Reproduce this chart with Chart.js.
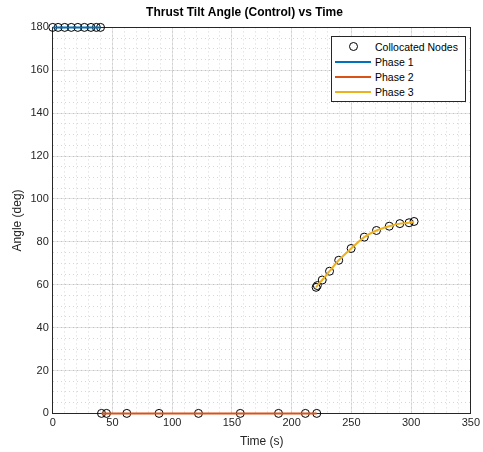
<!DOCTYPE html>
<html>
<head>
<meta charset="utf-8">
<script src="https://cdn.jsdelivr.net/npm/chart.js@4"></script>
<style>
  html, body { margin: 0; padding: 0; background: #fff; }
  #wrap { position: relative; width: 483px; height: 452px; }
  #legend {
    position: absolute; left: 331px; top: 36px; width: 133px;
    border: 1px solid #262626; background: #fff;
    font-family: "Liberation Sans", Arial, sans-serif; font-size: 10.5px; color: #000;
    padding: 2px 0;
  }
  .row { display: flex; align-items: center; height: 15px; }
  .sym { width: 36px; margin: 0 4px 0 3px; display: flex; justify-content: center; align-items: center; }
  .circ { width: 7px; height: 7px; border: 1px solid #000; border-radius: 50%; }
  .ln { width: 36px; height: 2px; }
</style>
</head>
<body>
<div id="wrap">
  <canvas id="chart" width="483" height="452"></canvas>
  <div id="legend">
    <div class="row"><div class="sym"><div class="circ"></div></div>Collocated Nodes</div>
    <div class="row"><div class="sym"><div class="ln" style="background:#0072BD"></div></div>Phase 1</div>
    <div class="row"><div class="sym"><div class="ln" style="background:#D95319"></div></div>Phase 2</div>
    <div class="row"><div class="sym"><div class="ln" style="background:#EDB120"></div></div>Phase 3</div>
  </div>
</div>
<script>
// values
var phase1Time  = [0, 4.5, 10, 15.5, 21, 26.5, 32, 36.5, 40];
var phase1Angle = [180, 180, 180, 180, 180, 180, 180, 180, 180];

var phase2Time  = [40.8, 45, 62, 89, 122, 157, 189, 211.5, 221];
var phase2Angle = [0, 0, 0, 0, 0, 0, 0, 0, 0];

var phase3Time  = [220.5, 221.5, 225.6, 231.7, 239.4, 249.8, 260.8, 271, 281.7, 290.6, 298.3, 302.5];
var phase3Angle = [58.8, 59.6, 62.2, 66.3, 71.4, 76.9, 82.2, 85.3, 87.3, 88.5, 88.9, 89.5];

var xTicks = [0, 50, 100, 150, 200, 250, 300, 350];
var yTicks = [0, 20, 40, 60, 80, 100, 120, 140, 160, 180];

function toPoints(xs, ys) {
    return xs.map(function(x, i) { return { x: x, y: ys[i] }; });
}

var nodes = toPoints(phase1Time, phase1Angle)
    .concat(toPoints(phase2Time, phase2Angle))
    .concat(toPoints(phase3Time, phase3Angle));

var font = { family: '"Liberation Sans", Arial, sans-serif', size: 11 };
var axisColor = '#262626';

new Chart(document.getElementById('chart'), {
    type: 'scatter',
    data: {
        datasets: [
            {
                label: 'Collocated Nodes',
                data: nodes,
                showLine: false,
                pointStyle: 'circle',
                pointRadius: 4,
                pointBorderWidth: 1,
                pointBorderColor: '#000',
                pointBackgroundColor: 'rgba(0,0,0,0)',
                clip: false,
                order: 2
            },
            {
                label: 'Phase 1',
                data: toPoints(phase1Time, phase1Angle),
                showLine: true,
                borderColor: '#0072BD',
                borderWidth: 2,
                pointRadius: 0,
                clip: false,
                order: 1
            },
            {
                label: 'Phase 2',
                data: toPoints(phase2Time, phase2Angle),
                showLine: true,
                borderColor: '#D95319',
                borderWidth: 2,
                pointRadius: 0,
                clip: false,
                order: 1
            },
            {
                label: 'Phase 3',
                data: toPoints(phase3Time, phase3Angle),
                showLine: true,
                cubicInterpolationMode: 'monotone',
                borderColor: '#EDB120',
                borderWidth: 2,
                pointRadius: 0,
                order: 1
            }
        ]
    },
    options: {
        responsive: false,
        animation: false,
        layout: { padding: { left: 10, right: 4, top: 0, bottom: 3 } },
        plugins: {
            legend: { display: false },
            tooltip: { enabled: false },
            title: {
                display: true,
                text: 'Thrust Tilt Angle (Control) vs Time',
                color: '#000',
                font: { family: font.family, size: 12, weight: 'bold' },
                padding: { top: 5, bottom: 0 }
            }
        },
        scales: {
            xMinor: {
                type: 'linear', position: 'bottom', min: 0, max: 350,
                ticks: { display: false, stepSize: 10 },
                grid: { color: 'rgba(0,0,0,0.16)', drawTicks: false },
                border: { display: false, dash: [1, 3] }
            },
            yMinor: {
                type: 'linear', position: 'left', min: 0, max: 180,
                ticks: { display: false, stepSize: 5 },
                grid: { color: 'rgba(0,0,0,0.16)', drawTicks: false },
                border: { display: false, dash: [1, 3] }
            },
            x: {
                type: 'linear', min: 0, max: 350,
                afterBuildTicks: function(axis) {
                    axis.ticks = xTicks.map(function(v) { return { value: v }; });
                },
                ticks: { color: axisColor, font: font, padding: 3 },
                grid: { color: 'rgba(0,0,0,0.1)', drawTicks: false },
                border: { color: axisColor, width: 1 },
                title: {
                    display: true, text: 'Time (s)', color: axisColor,
                    font: { family: font.family, size: 12 }, padding: { top: 2, bottom: 0 }
                }
            },
            y: {
                type: 'linear', min: 0, max: 180,
                afterBuildTicks: function(axis) {
                    axis.ticks = yTicks.map(function(v) { return { value: v }; });
                },
                ticks: { color: axisColor, font: font, padding: 4 },
                grid: { color: 'rgba(0,0,0,0.1)', drawTicks: false },
                border: { color: axisColor, width: 1 },
                title: {
                    display: true, text: 'Angle (deg)', color: axisColor,
                    font: { family: font.family, size: 12 }, padding: { top: 0, bottom: 2 }
                }
            },
            xTop: {
                type: 'linear', position: 'top', min: 0, max: 350,
                ticks: { display: false },
                grid: { display: false },
                border: { color: axisColor, width: 1 }
            },
            yRight: {
                type: 'linear', position: 'right', min: 0, max: 180,
                ticks: { display: false },
                grid: { display: false },
                border: { color: axisColor, width: 1 }
            }
        }
    }
});
</script>
</body>
</html>
